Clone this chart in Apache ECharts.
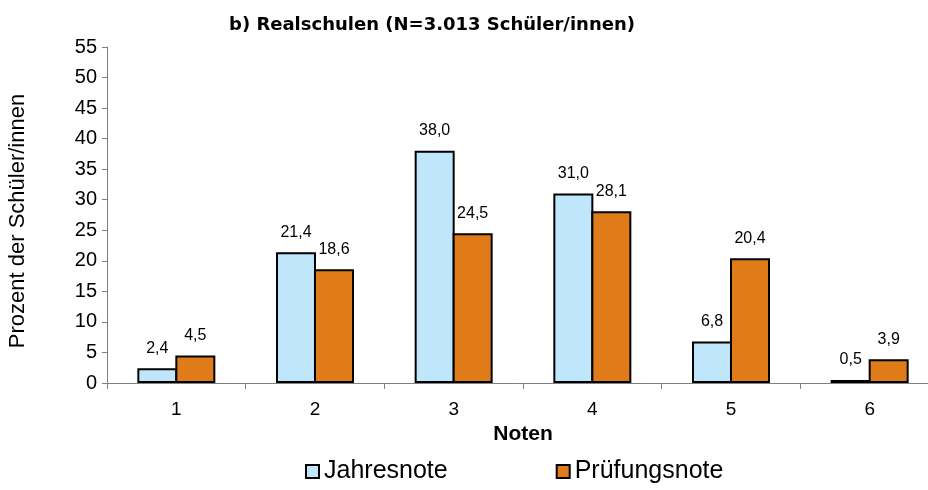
<!DOCTYPE html>
<html>
<head>
<meta charset="utf-8">
<script src="https://cdn.jsdelivr.net/npm/echarts@6/dist/echarts.min.js"></script>
<style>
  html, body { margin: 0; padding: 0; background: #fff; }
  #chart { width: 928px; height: 490px; }
</style>
</head>
<body>
<div id="chart"></div>
<script>
// Daten
var noten = ["1", "2", "3", "4", "5", "6"];
var jahresnote = [2.4, 21.4, 38.0, 31.0, 6.8, 0.5];
var pruefungsnote = [4.5, 18.6, 24.5, 28.1, 20.4, 3.9];
var yTicks = [0, 5, 10, 15, 20, 25, 30, 35, 40, 45, 50, 55];

var font = "Liberation Sans, Arial, sans-serif";

function fmt(p) {
  return p.value.toFixed(1).replace(".", ",");
}

var chart = echarts.init(document.getElementById("chart"));
chart.setOption({
  backgroundColor: "#ffffff",
  animation: false,
  textStyle: { fontFamily: font, color: "#000" },
  title: {
    text: "b) Realschulen (N=3.013 Schüler/innen)",
    left: 427,
    textAlign: "center",
    top: 11,
    textStyle: { fontSize: 18, fontWeight: "bold", color: "#000", fontFamily: "DejaVu Sans" }
  },
  legend: {
    bottom: 1,
    left: 300,
    itemGap: 108,
    itemWidth: 13,
    itemHeight: 13,
    icon: "rect",
    textStyle: { fontSize: 25, color: "#000", fontFamily: font },
    data: ["Jahresnote", "Prüfungsnote"]
  },
  grid: { left: 107, right: -11, top: 47, bottom: 107, outerBoundsMode: "none" },
  xAxis: {
    type: "category",
    data: noten,
    name: "Noten",
    nameLocation: "middle",
    nameGap: 41,
    nameTextStyle: { fontSize: 21, fontWeight: "bold", color: "#000" },
    axisLine: { lineStyle: { color: "#808080", width: 1 } },
    axisTick: { show: true, length: 6, lineStyle: { color: "#808080" } },
    axisLabel: { fontSize: 19, color: "#000", margin: 17 }
  },
  yAxis: {
    type: "value",
    min: yTicks[0],
    max: yTicks[yTicks.length - 1],
    interval: 5,
    name: "Prozent der Schüler/innen",
    nameLocation: "middle",
    nameGap: 78,
    nameTextStyle: { fontSize: 22, color: "#000", padding: [0, 12, 0, 0] },
    axisLine: { show: true, lineStyle: { color: "#808080", width: 1 } },
    axisTick: { show: true, length: 5, lineStyle: { color: "#808080" } },
    axisLabel: { fontSize: 20, color: "#000", margin: 10 },
    splitLine: { show: false }
  },
  series: [
    {
      name: "Jahresnote",
      type: "bar",
      data: jahresnote,
      barWidth: 40,
      barGap: "-5%",
      itemStyle: { color: "#BFE6FB", borderColor: "#000", borderWidth: 2 },
      label: { show: true, position: "top", distance: 12, fontSize: 16, color: "#000", formatter: fmt }
    },
    {
      name: "Prüfungsnote",
      type: "bar",
      data: pruefungsnote,
      barWidth: 40,
      barGap: "-5%",
      itemStyle: { color: "#E07B1A", borderColor: "#000", borderWidth: 2 },
      label: { show: true, position: "top", distance: 12, fontSize: 16, color: "#000", formatter: fmt }
    }
  ]
});
</script>
</body>
</html>
